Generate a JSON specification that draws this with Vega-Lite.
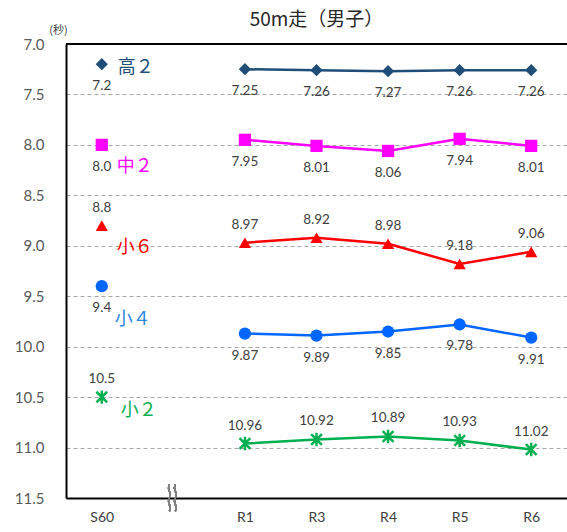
{
  "$schema": "https://vega.github.io/schema/vega-lite/v6.json",
  "width": 501,
  "height": 454,
  "autosize": {"type": "none"},
  "padding": {"left": 66, "top": 44, "right": 0, "bottom": 34},
  "background": "white",
  "config": {"view": {"stroke": null}, "font": "Lato, 'Noto Sans CJK JP', sans-serif"},
  "title": {"text": "50m走（男子）", "fontSize": 19, "fontWeight": "normal", "color": "#262626", "font": "'Noto Sans CJK JP', sans-serif", "offset": -6, "anchor": "middle"},
  "data": {"values": [
    {"series": "高２", "period": "S60", "value": 7.2},
    {"series": "高２", "period": "R1", "value": 7.25},
    {"series": "高２", "period": "R3", "value": 7.26},
    {"series": "高２", "period": "R4", "value": 7.27},
    {"series": "高２", "period": "R5", "value": 7.26},
    {"series": "高２", "period": "R6", "value": 7.26},
    {"series": "中２", "period": "S60", "value": 8.0},
    {"series": "中２", "period": "R1", "value": 7.95},
    {"series": "中２", "period": "R3", "value": 8.01},
    {"series": "中２", "period": "R4", "value": 8.06},
    {"series": "中２", "period": "R5", "value": 7.94},
    {"series": "中２", "period": "R6", "value": 8.01},
    {"series": "小６", "period": "S60", "value": 8.8},
    {"series": "小６", "period": "R1", "value": 8.97},
    {"series": "小６", "period": "R3", "value": 8.92},
    {"series": "小６", "period": "R4", "value": 8.98},
    {"series": "小６", "period": "R5", "value": 9.18},
    {"series": "小６", "period": "R6", "value": 9.06},
    {"series": "小４", "period": "S60", "value": 9.4},
    {"series": "小４", "period": "R1", "value": 9.87},
    {"series": "小４", "period": "R3", "value": 9.89},
    {"series": "小４", "period": "R4", "value": 9.85},
    {"series": "小４", "period": "R5", "value": 9.78},
    {"series": "小４", "period": "R6", "value": 9.91},
    {"series": "小２", "period": "S60", "value": 10.5},
    {"series": "小２", "period": "R1", "value": 10.96},
    {"series": "小２", "period": "R3", "value": 10.92},
    {"series": "小２", "period": "R4", "value": 10.89},
    {"series": "小２", "period": "R5", "value": 10.93},
    {"series": "小２", "period": "R6", "value": 11.02}
  ]},
  "transform": [
    {"calculate": "datum.period == 'S60' ? format(datum.value, '.1f') : format(datum.value, '.2f')", "as": "label"}
  ],
  "encoding": {
    "x": {"field": "period", "type": "nominal",
      "scale": {"type": "point", "domain": ["S60", "gap", "R1", "R3", "R4", "R5", "R6"], "padding": 0.5},
      "axis": {"values": ["S60", "R1", "R3", "R4", "R5", "R6"], "title": null, "labelAngle": 0, "ticks": false, "grid": false,
        "domainColor": "black", "domainWidth": 2, "labelFontSize": 14, "labelColor": "#404040", "labelPadding": 12}},
    "y": {"field": "value", "type": "quantitative",
      "scale": {"domain": [7, 11.5], "reverse": true, "nice": false, "zero": false},
      "axis": {"values": [7, 7.5, 8, 8.5, 9, 9.5, 10, 10.5, 11, 11.5], "format": ".1f", "ticks": false,
        "domainColor": "black", "domainWidth": 2, "labelFontSize": 15, "labelColor": "#595959", "labelPadding": 22,
        "grid": true, "gridDash": [4, 3], "gridColor": "#a6a6a6", "gridWidth": 1,
        "title": "(秒)", "titleAngle": 0, "titleX": -8, "titleY": -14, "titleAlign": "center", "titleBaseline": "middle",
        "titleFontSize": 11, "titleFontWeight": "normal", "titleColor": "#404040", "titleFont": "'Noto Sans CJK JP', sans-serif"}},
    "color": {"field": "series", "type": "nominal", "legend": null,
      "scale": {"domain": ["高２", "中２", "小６", "小４", "小２"], "range": ["#1F4E79", "#FF00FF", "#FF0000", "#0066FF", "#00B050"]}}
  },
  "layer": [
    {"mark": {"type": "rule", "color": "black", "strokeWidth": 2},
      "encoding": {"x": null, "color": null, "y": {"datum": 7}}},
    {"transform": [{"filter": "datum.period != 'S60'"}],
      "mark": {"type": "line", "strokeWidth": 2.5},
      "encoding": {"detail": {"field": "series"}}},
    {"transform": [{"filter": "datum.series != '小２'"}],
      "mark": {"type": "point", "filled": true, "opacity": 1, "size": 150},
      "encoding": {"shape": {"field": "series", "type": "nominal", "legend": null,
        "scale": {"domain": ["高２", "中２", "小６", "小４"], "range": ["diamond", "square", "triangle-up", "circle"]}}}},
    {"transform": [{"filter": "datum.series == '小２'"}],
      "mark": {"type": "point", "filled": false, "opacity": 1, "size": 180, "strokeWidth": 2.5,
        "shape": "M-0.8,-0.8L0.8,0.8M-0.8,0.8L0.8,-0.8M0,-1L0,1"}},
    {"transform": [{"filter": "datum.series == '高２' || datum.series == '中２' || datum.series == '小４'"}],
      "mark": {"type": "text", "dy": 22, "fontSize": 13.5, "color": "#404040", "baseline": "middle"},
      "encoding": {"text": {"field": "label"}, "color": null}},
    {"transform": [{"filter": "datum.series == '小６' || datum.series == '小２'"}],
      "mark": {"type": "text", "dy": -18, "fontSize": 13.5, "color": "#404040", "baseline": "middle"},
      "encoding": {"text": {"field": "label"}, "color": null}},
    {"transform": [{"filter": "datum.period == 'S60' && datum.series == '高２'"}],
      "mark": {"type": "text", "align": "left", "dx": 16, "dy": 4, "fontSize": 18, "baseline": "middle", "font": "'Noto Sans CJK JP', sans-serif"},
      "encoding": {"text": {"field": "series"}, "color": {"value": "#1F4E79"}}},
    {"transform": [{"filter": "datum.period == 'S60' && (datum.series == '中２' || datum.series == '小６')"}],
      "mark": {"type": "text", "align": "left", "dx": 15, "dy": 22, "fontSize": 18, "baseline": "middle", "font": "'Noto Sans CJK JP', sans-serif"},
      "encoding": {"text": {"field": "series"}}},
    {"transform": [{"filter": "datum.period == 'S60' && datum.series == '小４'"}],
      "mark": {"type": "text", "align": "left", "dx": 13, "dy": 34, "fontSize": 18, "baseline": "middle", "font": "'Noto Sans CJK JP', sans-serif"},
      "encoding": {"text": {"field": "series"}, "color": {"value": "#2E86DE"}}},
    {"transform": [{"filter": "datum.period == 'S60' && datum.series == '小２'"}],
      "mark": {"type": "text", "align": "left", "dx": 19, "dy": 14, "fontSize": 18, "baseline": "middle", "font": "'Noto Sans CJK JP', sans-serif"},
      "encoding": {"text": {"field": "series"}}},
    {"mark": {"type": "point", "filled": false, "opacity": 1, "size": 700, "strokeWidth": 1.3, "color": "#808080",
        "shape": "M-0.3,-1C-0.55,-0.5,-0.05,-0.5,-0.3,0C-0.55,0.5,-0.05,0.5,-0.3,1M0.15,-1C-0.1,-0.5,0.4,-0.5,0.15,0C-0.1,0.5,0.4,0.5,0.15,1"},
      "encoding": {"x": {"datum": "gap"}, "y": {"datum": 11.5}, "color": null}}
  ]
}
